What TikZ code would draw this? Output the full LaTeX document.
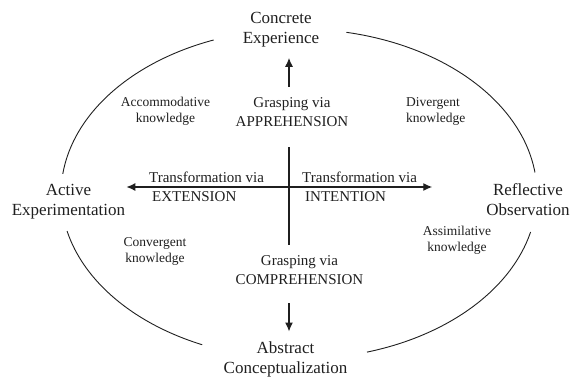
\documentclass[tikz,border=0pt]{standalone}
\usepackage{fontspec}
\setmainfont{Liberation Serif}
\usetikzlibrary{arrows.meta}
\definecolor{ink}{gray}{0.12}
\begin{document}
\begin{tikzpicture}[x=1pt,y=1pt,
  big/.style={font=\fontsize{17}{20}\selectfont, text=ink, align=center, inner sep=0pt, anchor=base},
  mid/.style={font=\fontsize{15}{19}\selectfont, text=ink, align=center, inner sep=0pt, anchor=base},
  small/.style={font=\fontsize{13.5}{16}\selectfont, text=ink, align=center, inner sep=0pt, anchor=base},
  ell/.style={draw=ink, line width=0.9pt},
  arr/.style={draw=ink, line width=1.3pt, -{Latex[length=9pt,width=8pt]}},
  darr/.style={draw=ink, line width=1.3pt, {Latex[length=9pt,width=8pt]}-{Latex[length=9pt,width=8pt]}},
  axis/.style={draw=ink, line width=1.3pt}]
\useasboundingbox (0,0) rectangle (572,376);
% ellipse arcs
\draw[ell] (299pt,182pt) ++(111:238pt and 165pt) arc[start angle=111,end angle=173,x radius=238pt,y radius=165pt];
\draw[ell] (299pt,182pt) ++(78.5:238pt and 165pt) arc[start angle=78.5,end angle=7.5,x radius=238pt,y radius=165pt];
\draw[ell] (299pt,182pt) ++(193:238pt and 165pt) arc[start angle=193,end angle=246,x radius=238pt,y radius=165pt];
\draw[ell] (299pt,182pt) ++(286.6:238pt and 165pt) arc[start angle=286.6,end angle=346.7,x radius=238pt,y radius=165pt];
% main nodes
\node[big] (CE) at (281,333) {Concrete\\Experience};
\node[big] (AE) at (68.5,161) {Active\\Experimentation};
\node[big] (RO) at (528,161) {Reflective\\Observation};
\node[big] (AC) at (285.5,3) {Abstract\\Conceptualization};
% inner labels
\node[mid] (GA) at (292,250) {Grasping via\\APPREHENSION};
\node[mid] (GC) at (299.5,92) {Grasping via\\COMPREHENSION};
\node[mid, align=left, anchor=base west] (TL) at (149,175) {Transformation via\\\hspace{3pt}EXTENSION};
\node[mid, align=left, anchor=base west] (TR) at (302,175) {Transformation via\\\hspace{3pt}INTENTION};
\node[small] (AK) at (165.5,254) {Accommodative\\knowledge};
\node[small, align=left, anchor=base west] (DK) at (406,254) {Divergent\\knowledge};
\node[small] (CK) at (155,114) {Convergent\\knowledge};
\node[small] (SK) at (457,125) {Assimilative\\knowledge};
% cross
\coordinate (O) at (289,189);
\draw[axis] (GA.south -| O) ++(0,-21) -- ([yshift=10pt]GC.north -| O);
\draw[darr] ([xshift=1pt]AE.east |- O) -- ([xshift=-54pt]RO.west |- O);
\draw[arr] ([yshift=10pt]GA.north -| O) -- ([yshift=-11pt]CE.south -| O);
\draw[arr] ([yshift=-19pt]GC.south -| O) -- ([yshift=9.5pt]AC.north -| O);
\end{tikzpicture}
\end{document}
